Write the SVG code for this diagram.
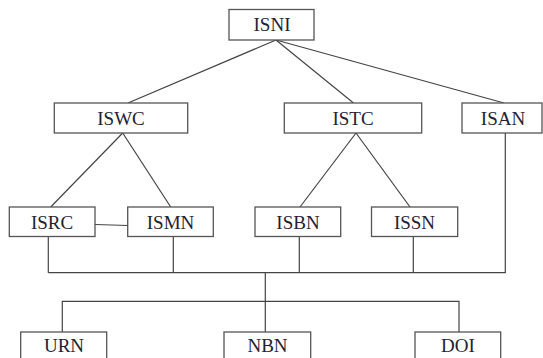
<svg xmlns="http://www.w3.org/2000/svg" width="543" height="358" viewBox="0 0 543 358">
<style>
.box{fill:#fff;stroke:#555;stroke-width:1.3}
.lbl{font-family:"Liberation Serif","Times New Roman",serif;font-size:19px;fill:#1e2233;text-anchor:middle}
.conn line,.conn polyline{stroke:#444;stroke-width:1.2;fill:none}
</style>
<rect width="543" height="358" fill="#fff"/>
<g class="conn">
<line x1="276" y1="40" x2="128" y2="103"/>
<line x1="276" y1="40" x2="353.5" y2="103"/>
<line x1="276" y1="40" x2="504" y2="103"/>
<line x1="122.7" y1="133" x2="50.7" y2="207"/>
<line x1="122.7" y1="133" x2="170.7" y2="207"/>
<line x1="356" y1="133" x2="300" y2="207"/>
<line x1="356" y1="133" x2="410" y2="207"/>
<line x1="95" y1="224.5" x2="128" y2="225.5"/>
<line x1="48.3" y1="236.5" x2="48.3" y2="272.7"/>
<line x1="173.3" y1="236.5" x2="173.3" y2="272.7"/>
<line x1="299.3" y1="236.5" x2="299.3" y2="272.7"/>
<line x1="413.3" y1="236.5" x2="413.3" y2="272.7"/>
<line x1="505.3" y1="133" x2="505.3" y2="272.7"/>
<line x1="48.3" y1="272.7" x2="505.9" y2="272.7"/>
<line x1="265.3" y1="272.7" x2="265.3" y2="332"/>
<polyline points="62.3,332 62.3,301.3 459,301.3 459,332"/>
</g>
<g id="ISNI"><rect class="box" x="229" y="9.5" width="85" height="30.5"/><text class="lbl" x="272" y="31">ISNI</text></g>
<g id="ISWC"><rect class="box" x="54.3" y="103" width="133.4" height="30"/><text class="lbl" x="121" y="124.5">ISWC</text></g>
<g id="ISTC"><rect class="box" x="284.3" y="103" width="137.4" height="30"/><text class="lbl" x="353" y="124.5">ISTC</text></g>
<g id="ISAN"><rect class="box" x="462" y="103" width="80" height="30"/><text class="lbl" x="503" y="124.5">ISAN</text></g>
<g id="ISRC"><rect class="box" x="9.3" y="207" width="85.7" height="29.5"/><text class="lbl" x="52" y="228.5">ISRC</text></g>
<g id="ISMN"><rect class="box" x="127.7" y="207" width="85.6" height="29.5"/><text class="lbl" x="170.5" y="228.5">ISMN</text></g>
<g id="ISBN"><rect class="box" x="255" y="207" width="85.7" height="29.5"/><text class="lbl" x="298" y="228.5">ISBN</text></g>
<g id="ISSN"><rect class="box" x="371.5" y="207" width="86.2" height="29.5"/><text class="lbl" x="414.5" y="228.5">ISSN</text></g>
<g id="URN"><rect class="box" x="20.7" y="332" width="86" height="40"/><text class="lbl" x="64" y="352">URN</text></g>
<g id="NBN"><rect class="box" x="224" y="332" width="86.7" height="40"/><text class="lbl" x="267.5" y="352">NBN</text></g>
<g id="DOI"><rect class="box" x="415" y="332" width="85.7" height="40"/><text class="lbl" x="458" y="352">DOI</text></g>
</svg>
